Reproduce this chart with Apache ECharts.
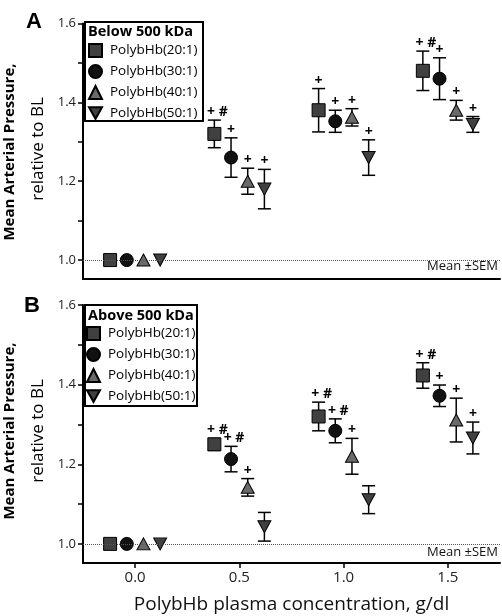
<!DOCTYPE html>
<html>
<head>
<meta charset="utf-8">
<script src="https://cdn.jsdelivr.net/npm/echarts@6/dist/echarts.min.js"></script>
<style>
html,body{margin:0;padding:0;background:#fff;}
#chart{width:502px;height:616px;}
</style>
</head>
<body>
<div id="chart"></div>
<script>
// ---------- DATA ----------
const concentrations = [0, 0.5, 1.0, 1.5];
const seriesNames = ['PolybHb(20:1)', 'PolybHb(30:1)', 'PolybHb(40:1)', 'PolybHb(50:1)'];
const xTickValues = [0, 0.5, 1.0, 1.5];
const yTickValues = [1.0, 1.1, 1.2, 1.3, 1.4, 1.5, 1.6];
const yLabelValues = [1.0, 1.2, 1.4, 1.6];

// Panel A: Below 500 kDa
const belowMean20 = [1.0, 1.32, 1.38, 1.48];
const belowSem20  = [0, 0.035, 0.055, 0.05];
const belowMean30 = [1.0, 1.26, 1.352, 1.46];
const belowSem30  = [0, 0.05, 0.028, 0.053];
const belowMean40 = [1.0, 1.20, 1.362, 1.38];
const belowSem40  = [0, 0.033, 0.022, 0.025];
const belowMean50 = [1.0, 1.18, 1.26, 1.344];
const belowSem50  = [0, 0.05, 0.045, 0.02];
const belowMarks20 = ['', '+ #', '+', '+ #'];
const belowMarks30 = ['', '+', '+', '+'];
const belowMarks40 = ['', '+', '+', '+'];
const belowMarks50 = ['', '+', '+', '+'];

// Panel B: Above 500 kDa
const aboveMean20 = [1.0, 1.25, 1.32, 1.423];
const aboveSem20  = [0, 0.015, 0.036, 0.032];
const aboveMean30 = [1.0, 1.213, 1.284, 1.372];
const aboveSem30  = [0, 0.032, 0.03, 0.027];
const aboveMean40 = [1.0, 1.142, 1.22, 1.311];
const aboveSem40  = [0, 0.022, 0.045, 0.055];
const aboveMean50 = [1.0, 1.043, 1.111, 1.266];
const aboveSem50  = [0, 0.036, 0.035, 0.04];
const aboveMarks20 = ['', '+ #', '+ #', '+ #'];
const aboveMarks30 = ['', '+ #', '+ #', '+'];
const aboveMarks40 = ['', '+', '+', '+'];
const aboveMarks50 = ['', '', '', '+'];

// ---------- STYLE ----------
const FONT = '"Open Sans", "Noto Sans", sans-serif';
const dodge = [-0.12, -0.04, 0.04, 0.12];
const symbols = ['rect', 'circle', 'triangle', 'path://M0,0 L10,0 L5,9 Z'];
const fills = ['#404040', '#111111', '#6a6a6a', '#404040'];

const panels = [
  {means: [belowMean20, belowMean30, belowMean40, belowMean50],
   sems: [belowSem20, belowSem30, belowSem40, belowSem50],
   marks: [belowMarks20, belowMarks30, belowMarks40, belowMarks50]},
  {means: [aboveMean20, aboveMean30, aboveMean40, aboveMean50],
   sems: [aboveSem20, aboveSem30, aboveSem40, aboveSem50],
   marks: [aboveMarks20, aboveMarks30, aboveMarks40, aboveMarks50]}
];

const grids = [
  {left: 83, top: 23.5, width: 417, height: 255.5},
  {left: 83, top: 305, width: 417, height: 258}
];

function fmt(v){ return Number(v).toFixed(1); }

const xAxes = grids.map((g, i) => ({
  type: 'value', gridIndex: i, min: -0.25, max: 1.75,
  axisLine: {show: true, onZero: false, lineStyle: {color: '#000', width: 2}},
  axisTick: {show: i === 1, inside: false, length: 5, lineStyle: {color: '#000', width: 1.5}, customValues: xTickValues},
  axisLabel: {show: i === 1, customValues: xTickValues, formatter: fmt, fontSize: 15, fontFamily: FONT, color: '#222', margin: 7},
  splitLine: {show: false},
  name: i === 1 ? 'PolybHb plasma concentration, g/dl' : '',
  nameLocation: 'middle', nameGap: 32,
  nameTextStyle: {fontSize: 19, fontFamily: FONT, color: '#111'}
}));

const yAxes = grids.map((g, i) => ({
  type: 'value', gridIndex: i, min: 0.952, max: 1.6,
  axisLine: {show: true, onZero: false, lineStyle: {color: '#000', width: 2}},
  axisTick: {show: true, length: 5, lineStyle: {color: '#000', width: 1.5}, customValues: yTickValues},
  axisLabel: {customValues: yLabelValues, formatter: fmt, fontSize: 13, fontFamily: FONT, color: '#222', margin: 7},
  splitLine: {show: false}
}));

const series = [];
panels.forEach((p, pi) => {
  for (let s = 0; s < 4; s++) {
    const pts = concentrations.map((c, k) => [c + dodge[s], p.means[s][k]]);
    const sc = {
      type: 'scatter', name: seriesNames[s], xAxisIndex: pi, yAxisIndex: pi,
      symbol: symbols[s], symbolSize: s >= 2 ? [13, 12] : 13,
      itemStyle: {color: fills[s], borderColor: '#000', borderWidth: 1, opacity: 1},
      z: 4, data: pts, silent: true
    };
    if (s === 0) {
      sc.markLine = {
        silent: true, symbol: ['none', 'none'], label: {show: false},
        lineStyle: {type: 'dotted', color: '#555', width: 1},
        data: [{yAxis: 1.0}], animation: false
      };
    }
    series.push(sc);
    const errData = [];
    const errMarks = [];
    concentrations.forEach((c, k) => {
      if (p.sems[s][k] > 0) {
        errData.push([c + dodge[s], p.means[s][k] - p.sems[s][k], p.means[s][k] + p.sems[s][k]]);
        errMarks.push(p.marks[s][k]);
      }
    });
    series.push({
      type: 'custom', name: 'err' + pi + '_' + s, xAxisIndex: pi, yAxisIndex: pi, z: 3, silent: true,
      data: errData,
      encode: {x: 0, y: [1, 2]},
      renderItem: function (params, api) {
        const x = api.value(0), lo = api.value(1), hi = api.value(2);
        const pHi = api.coord([x, hi]);
        const pLo = api.coord([x, lo]);
        const hw = 6.5;
        const ls = {stroke: '#000', lineWidth: 1.5};
        const children = [
          {type: 'line', shape: {x1: pHi[0], y1: pHi[1], x2: pLo[0], y2: pLo[1]}, style: ls},
          {type: 'line', shape: {x1: pHi[0] - hw, y1: pHi[1], x2: pHi[0] + hw, y2: pHi[1]}, style: ls},
          {type: 'line', shape: {x1: pLo[0] - hw, y1: pLo[1], x2: pLo[0] + hw, y2: pLo[1]}, style: ls}
        ];
        const m = errMarks[params.dataIndex];
        if (m) {
          children.push({type: 'text', x: pHi[0] + (m.length > 1 ? 3 : 0), y: pHi[1] - 1,
            style: {text: m, fill: '#000', font: 'bold 14px ' + FONT, align: 'center', verticalAlign: 'bottom'}});
        }
        return {type: 'group', children: children};
      }
    });
  }
});

function legendFor(top, left) {
  return {
    orient: 'vertical', left: left, top: top, itemWidth: 13, itemHeight: 13, itemGap: 6,
    data: seriesNames, selectedMode: false, z: 20,
    textStyle: {fontSize: 13.5, fontFamily: FONT, color: '#000', padding: [0, 0, 0, 3]},
    padding: 0
  };
}

const graphic = [
  {type: 'rect', z: 10, shape: {x: 85, y: 22, width: 118, height: 99}, style: {fill: '#fff', stroke: '#000', lineWidth: 2}},
  {type: 'rect', z: 10, shape: {x: 85, y: 305, width: 112, height: 101}, style: {fill: '#fff', stroke: '#000', lineWidth: 2}},
  {type: 'text', z: 11, x: 88, y: 32, style: {text: 'Below 500 kDa', font: 'bold 14.5px ' + FONT, fill: '#000', verticalAlign: 'middle', align: 'left'}},
  {type: 'text', z: 11, x: 88, y: 316, style: {text: 'Above 500 kDa', font: 'bold 14.5px ' + FONT, fill: '#000', verticalAlign: 'middle', align: 'left'}},
  {type: 'text', x: 34, y: 22, style: {text: 'A', font: 'bold 22px "Liberation Sans", Arial, sans-serif', fill: '#000', align: 'center', verticalAlign: 'middle'}},
  {type: 'text', x: 32, y: 306, style: {text: 'B', font: 'bold 22px "Liberation Sans", Arial, sans-serif', fill: '#000', align: 'center', verticalAlign: 'middle'}},
  {type: 'text', x: 10, y: 152, rotation: Math.PI / 2, style: {text: 'Mean Arterial Pressure,', font: 'bold 15px ' + FONT, fill: '#000', align: 'center', verticalAlign: 'middle'}},
  {type: 'text', x: 38, y: 149, rotation: Math.PI / 2, style: {text: 'relative to BL', font: '17px ' + FONT, fill: '#000', align: 'center', verticalAlign: 'middle'}},
  {type: 'text', x: 10, y: 431, rotation: Math.PI / 2, style: {text: 'Mean Arterial Pressure,', font: 'bold 15px ' + FONT, fill: '#000', align: 'center', verticalAlign: 'middle'}},
  {type: 'text', x: 38, y: 431, rotation: Math.PI / 2, style: {text: 'relative to BL', font: '17px ' + FONT, fill: '#000', align: 'center', verticalAlign: 'middle'}},
  {type: 'text', x: 498, y: 266, style: {text: 'Mean \u00B1SEM', font: '13px ' + FONT, fill: '#111', align: 'right', verticalAlign: 'middle'}},
  {type: 'text', x: 498, y: 552, style: {text: 'Mean \u00B1SEM', font: '13px ' + FONT, fill: '#111', align: 'right', verticalAlign: 'middle'}}
];

const chart = echarts.init(document.getElementById('chart'), null, {renderer: 'canvas'});
chart.setOption({
  animation: false,
  backgroundColor: '#fff',
  grid: grids,
  xAxis: xAxes,
  yAxis: yAxes,
  legend: [legendFor(43, 88), legendFor(326, 86)],
  graphic: graphic,
  series: series
});
</script>
</body>
</html>
